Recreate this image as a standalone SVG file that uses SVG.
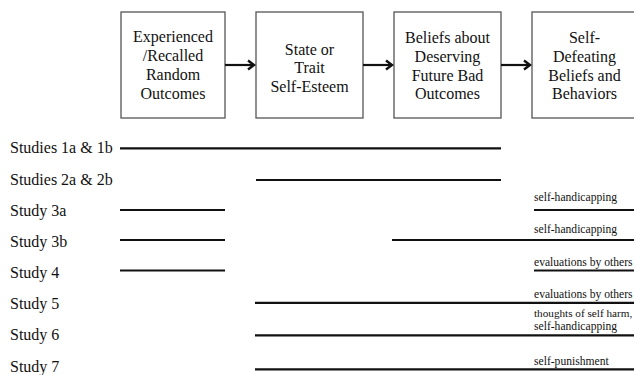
<svg xmlns="http://www.w3.org/2000/svg" width="634" height="375" viewBox="0 0 634 375">
<defs>
<style>
.box{fill:#fff;stroke:#555;stroke-width:1.3}
.bt{font-family:"Times New Roman","Liberation Serif",Tinos,"DejaVu Serif",serif;font-size:16px;fill:#111;text-anchor:middle}
.lt{font-family:"Times New Roman","Liberation Serif",Tinos,"DejaVu Serif",serif;font-size:16px;fill:#111}
.st{font-family:"Times New Roman","Liberation Serif",Tinos,"DejaVu Serif",serif;font-size:11.6px;fill:#111}
.ln{stroke:#111;stroke-width:2.2;fill:none}
.ar{stroke:#111;stroke-width:2.2;fill:none}
.ah{stroke:#111;stroke-width:2.4;fill:none;stroke-linejoin:miter}
</style>
</defs>
<rect width="634" height="375" fill="#fff"/>
<g id="box-outcomes">
<rect class="box" x="121" y="12" width="104" height="106"/>
<text class="bt" x="173" y="42">Experienced</text>
<text class="bt" x="173" y="61">/Recalled</text>
<text class="bt" x="173" y="80">Random</text>
<text class="bt" x="173" y="98.5">Outcomes</text>
</g>
<g id="box-selfesteem">
<rect class="box" x="256" y="12" width="107" height="106"/>
<text class="bt" x="309.5" y="54.5">State or</text>
<text class="bt" x="309.5" y="73">Trait</text>
<text class="bt" x="309.5" y="92">Self-Esteem</text>
</g>
<g id="box-beliefs">
<rect class="box" x="394" y="12" width="107" height="106"/>
<text class="bt" x="447.5" y="43">Beliefs about</text>
<text class="bt" x="447.5" y="62">Deserving</text>
<text class="bt" x="447.5" y="80.5">Future Bad</text>
<text class="bt" x="447.5" y="99">Outcomes</text>
</g>
<g id="box-selfdefeating">
<rect class="box" x="532" y="12" width="106" height="106"/>
<text class="bt" x="584.5" y="43">Self-</text>
<text class="bt" x="584.5" y="62">Defeating</text>
<text class="bt" x="584.5" y="80.5">Beliefs and</text>
<text class="bt" x="584.5" y="99">Behaviors</text>
</g>
<g id="connectors">
<line class="ar" x1="225" y1="65" x2="253" y2="65"/>
<polyline class="ah" points="248,60.5 254,65 248,69.5"/>
<line class="ar" x1="363" y1="65" x2="391" y2="65"/>
<polyline class="ah" points="386,60.5 392,65 386,69.5"/>
<line class="ar" x1="501" y1="65" x2="529" y2="65"/>
<polyline class="ah" points="524,60.5 530,65 524,69.5"/>
</g>
<g id="study-labels">
<text class="lt" x="10" y="153.3">Studies 1a &amp; 1b</text>
<text class="lt" x="10" y="184.8">Studies 2a &amp; 2b</text>
<text class="lt" x="10" y="215.5">Study 3a</text>
<text class="lt" x="10" y="246.5">Study 3b</text>
<text class="lt" x="10" y="277.5">Study 4</text>
<text class="lt" x="10" y="308.8">Study 5</text>
<text class="lt" x="10" y="340">Study 6</text>
<text class="lt" x="10" y="371.5">Study 7</text>
</g>
<g id="study-lines">
<line class="ln" x1="120" y1="148.3" x2="501" y2="148.3"/>
<line class="ln" x1="256" y1="180" x2="501" y2="180"/>
<line class="ln" x1="120" y1="210" x2="225" y2="210"/>
<line class="ln" x1="534" y1="210" x2="634" y2="210"/>
<line class="ln" x1="120" y1="240" x2="225" y2="240"/>
<line class="ln" x1="392" y1="240" x2="634" y2="240"/>
<line class="ln" x1="120" y1="270.5" x2="225" y2="270.5"/>
<line class="ln" x1="534" y1="270.5" x2="634" y2="270.5"/>
<line class="ln" x1="255" y1="302.8" x2="634" y2="302.8"/>
<line class="ln" x1="255" y1="335.3" x2="634" y2="335.3"/>
<line class="ln" x1="255" y1="369.3" x2="634" y2="369.3"/>
</g>
<g id="outcome-labels">
<text class="st" x="534" y="201">self-handicapping</text>
<text class="st" x="534" y="232.5">self-handicapping</text>
<text class="st" x="534" y="266">evaluations by others</text>
<text class="st" x="534" y="298">evaluations by others</text>
<text class="st" x="534" y="317" style="font-size:11.2px">thoughts of self harm,</text>
<text class="st" x="534" y="330">self-handicapping</text>
<text class="st" x="534" y="364.5">self-punishment</text>
</g>
</svg>
